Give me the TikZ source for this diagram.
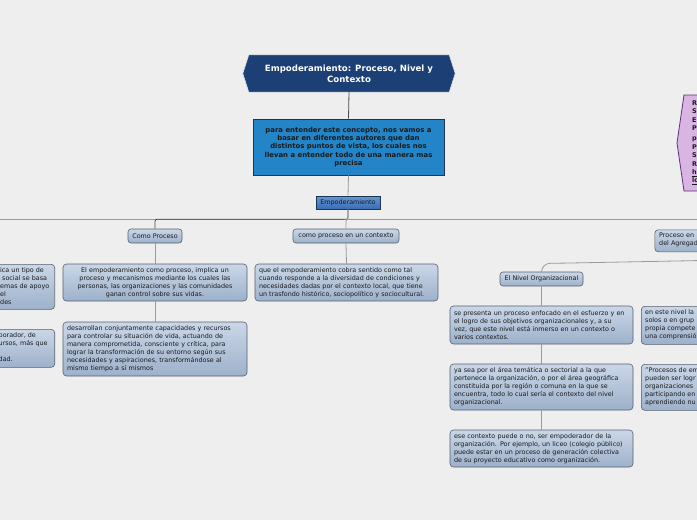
\documentclass[tikz,border=0pt]{standalone}
\usepackage{fontspec}
\setmainfont{DejaVu Sans}
\usetikzlibrary{calc}
\pgfdeclarelayer{bgzero}
\pgfdeclarelayer{bgone}
\pgfsetlayers{bgzero,bgone,main}
\definecolor{bgc}{HTML}{EEEEEE}
\definecolor{txtc}{HTML}{1A1A1A}
\definecolor{bord}{HTML}{56606C}
\definecolor{nodeT}{HTML}{CAD7E8}
\definecolor{nodeB}{HTML}{9DB1CB}
\definecolor{empT}{HTML}{6396D6}
\definecolor{empB}{HTML}{3C6DB3}
\definecolor{qblue}{HTML}{2385C7}
\definecolor{qbord}{HTML}{1D3550}
\definecolor{titleblue}{HTML}{1C3F75}
\definecolor{linec}{HTML}{9A9A9A}
\definecolor{darkline}{HTML}{4A4A4A}
\definecolor{purpfill}{HTML}{D9B5E3}
\definecolor{purpbord}{HTML}{5C3470}
\tikzset{
  basetext/.style={font=\fontsize{6.4}{8}\selectfont, text=txtc},
  topic/.style={basetext, draw=bord, line width=0.6pt, rounded corners=3.5pt,
    top color=nodeT, bottom color=nodeB, inner xsep=4pt, inner ysep=2pt},
  smalltopic/.style={topic, rounded corners=3pt, inner xsep=2pt, inner ysep=1pt},
  boxshape/.style={draw=bord, line width=0.6pt, rounded corners=3.5pt,
    top color=nodeT, bottom color=nodeB},
  conn/.style={draw=linec, line width=0.8pt},
  darkconn/.style={draw=darkline, line width=0.8pt},
}
\begin{document}
\begin{tikzpicture}[x=1pt,y=-1pt]
\useasboundingbox (0,0) rectangle (697,520);
\clip (0,0) rectangle (697,520);
\begin{pgfonlayer}{bgzero}
\fill[bgc] (-5,-5) rectangle (702,525);
\end{pgfonlayer}

% title
\node[text=white, font=\bfseries\fontsize{8.6}{11}\selectfont, align=center,
      minimum width=200pt, minimum height=37pt, inner sep=0pt] (title) at (349,73.5)
  {Empoderamiento: Proceso, Nivel y\\Contexto};
\begin{pgfonlayer}{bgone}
\draw[fill=titleblue, draw=white!85!titleblue, line width=0.6pt]
  ($(title.west)+(-6,0)$) -- (title.north west) -- (title.north east) --
  ($(title.east)+(6,0)$) -- (title.south east) -- (title.south west) -- cycle;
\end{pgfonlayer}

% question box
\node[fill=qblue, draw=qbord, line width=0.9pt, font=\bfseries\fontsize{6.9}{8.4}\selectfont,
      text=txtc, align=center, minimum width=191pt, minimum height=56pt, inner sep=1pt] (quest) at (348.5,147)
  {para entender este concepto, nos vamos a\\basar en diferentes autores que dan\\distintos puntos de vista, los cuales nos\\llevan a entender todo de una manera mas\\precisa};

% Empoderamiento
\node[basetext, draw=qbord, line width=0.6pt, top color=empT, bottom color=empB,
      minimum width=64pt, minimum height=13pt, inner sep=1pt] (emp) at (348,202.5) {Empoderamiento};

% level 1
\node[smalltopic, minimum width=54pt, minimum height=14pt] (comop) at (155,236) {Como Proceso};
\node[smalltopic, minimum width=106pt, minimum height=14pt] (ctx) at (346,236) {como proceso en un contexto};

\node[topic, text width=176pt, align=center, minimum height=37pt] (p1) at (155,282.5)
  {El empoderamiento como proceso, implica un\\proceso y mecanismos mediante los cuales las\\personas, las organizaciones y las comunidades\\ganan control sobre sus vidas.};
\node[topic, text width=176pt, align=left, minimum height=54pt] (p2) at (155,349)
  {desarrollan conjuntamente capacidades y recursos\\para controlar su situación de vida, actuando de\\manera comprometida, consciente y crítica, para\\lograr la transformación de su entorno según sus\\necesidades y aspiraciones, transformándose al\\mismo tiempo a sí mismos};
\node[topic, text width=175pt, align=left, minimum height=37pt] (c1) at (346.5,282.5)
  {que el empoderamiento cobra sentido como tal\\cuando responde a la diversidad de condiciones y\\necesidades dadas por el contexto local, que tiene\\un trasfondo histórico, sociopolítico y sociocultural.};

% left clipped boxes
\node[boxshape, minimum width=140pt, minimum height=45pt, anchor=north east] (l1) at (55,264) {};
\node[basetext, align=left, anchor=north west, inner sep=0pt] (l1t) at (0,267.5)
  {ica un tipo de\\\hspace{2pt}social se basa\\emas de apoyo\\el\\des};
\node[boxshape, minimum width=140pt, minimum height=38pt, anchor=north east] (l2) at (55,329) {};
\node[basetext, align=left, anchor=north west, inner sep=0pt] (l2t) at (-1.5,332.5)
  {porador, de\\ursos, más que\\\mbox{}\\dad.};

% nivel organizacional
\node[smalltopic, minimum width=83pt, minimum height=14pt] (nivel) at (541.5,279) {El Nivel Organizacional};
\node[topic, text width=175pt, align=left, minimum height=38pt] (n1) at (541.5,325)
  {se presenta un proceso enfocado en el esfuerzo y en\\el logro de sus objetivos organizacionales y, a su\\vez, que este nivel está inmerso en un contexto o\\varios contextos.};
\node[topic, text width=175pt, align=left, minimum height=46pt] (n2) at (541.5,387)
  {ya sea por el área temática o sectorial a la que\\pertenece la organización, o por el área geográfica\\constituida por la región o comuna en la que se\\encuentra, todo lo cual sería el contexto del nivel\\organizacional.};
\node[topic, text width=175pt, align=left, minimum height=37pt] (n3) at (541.5,448.5)
  {ese contexto puede o no, ser empoderador de la\\organización. Por ejemplo, un liceo (colegio público)\\puede estar en un proceso de generación colectiva\\de su proyecto educativo como organización.};

% right clipped boxes
\node[boxshape, minimum width=140pt, minimum height=38pt, anchor=north west] (r1) at (641,306) {};
\node[basetext, align=left, anchor=north west, inner sep=0pt] (r1t) at (645,309.5)
  {en este nivel la\\solos o en grup\\propia compete\\una comprensió};
\node[boxshape, minimum width=140pt, minimum height=46pt, anchor=north west] (r2) at (641,364) {};
\node[basetext, align=left, anchor=north west, inner sep=0pt] (r2t) at (645,367.5)
  {"Procesos de em\\pueden ser logr\\organizaciones\\participando en\\aprendiendo nu};
\node[boxshape, minimum width=100pt, minimum height=22pt, anchor=north west] (pr) at (654.5,229.5) {};
\node[basetext, align=left, anchor=north west, inner sep=0pt] (prt) at (659,232.5)
  {Proceso en\\del Agregad};

% purple clipped node
\begin{pgfonlayer}{bgone}
\draw[fill=purpfill, draw=purpbord, line width=0.8pt]
  (677,143) -- (684,95) -- (720,95) -- (720,191) -- (684,191) -- cycle;
\end{pgfonlayer}
\node[font=\bfseries\fontsize{6.5}{8.4}\selectfont, text=txtc, align=left, anchor=north west, inner sep=0pt] (purp) at (692,100.5)
  {R\\S\\E\\P\\[1.8pt]p\\P\\S\\R\\\underline{h}\\\underline{lo}};

% connectors
\coordinate (offL) at (-5,219);
\coordinate (offR) at (702,219);
\coordinate (bendR) at (560,263.2);
\coordinate (offR2) at (702,260.5);
\begin{pgfonlayer}{bgone}
\draw[conn, line width=0.7pt] (offL) -- (offR);
\end{pgfonlayer}
\draw[darkconn] (title.south) -- (quest.north);
\draw[conn] (quest.south) -- (emp.north);
\draw[darkconn, rounded corners=2pt] (emp.south) -- ++(0,10) -| (comop.north);
\draw[conn, rounded corners=2pt] (emp.south) -- ++(0,10) -| (ctx.north);
\draw[conn] (comop.south) -- (p1.north);
\draw[conn] (p1.south) -- (p2.north);
\draw[conn] (ctx.south) -- (c1.north);
\draw[conn, rounded corners=9pt] (nivel.north) |- (bendR) -- (offR2);
\draw[conn] (nivel.south) -- (n1.north);
\draw[conn] (n1.south) -- (n2.north);
\draw[conn] (n2.south) -- (n3.north);
\end{tikzpicture}
\end{document}
